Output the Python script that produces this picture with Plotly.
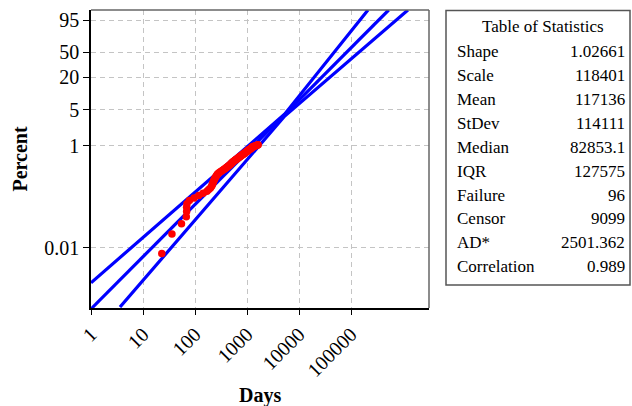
import numpy as np
import plotly.graph_objects as go

# ---- data ----
fail_days = [23, 36, 55, 68, 69, 69, 70, 78, 96, 118, 143, 170, 184, 198, 209, 214,
             219, 224, 229, 234, 239, 245, 252, 259, 266, 273, 282, 298, 314, 330,
             346, 362, 377, 392, 407, 423, 438, 453, 469, 481, 493, 504, 516, 527,
             539, 555, 571, 588, 604, 621, 638, 654, 671, 688, 704, 721, 739, 756,
             774, 791, 809, 826, 844, 861, 879, 896, 914, 931, 948, 966, 983, 1002,
             1021, 1039, 1058, 1077, 1095, 1114, 1133, 1152, 1170, 1189, 1208, 1226,
             1245, 1264, 1283, 1301, 1331, 1375, 1420, 1464, 1508, 1552, 1597, 1641]
fail_pct = [0.0076, 0.0185, 0.0294, 0.0402, 0.0511, 0.0620, 0.0729, 0.0837, 0.0946,
            0.1055, 0.1164, 0.1273, 0.1381, 0.1490, 0.1599, 0.1708, 0.1816, 0.1925,
            0.2034, 0.2143, 0.2251, 0.2360, 0.2469, 0.2578, 0.2686, 0.2795, 0.2904,
            0.3013, 0.3121, 0.3230, 0.3339, 0.3448, 0.3556, 0.3665, 0.3774, 0.3883,
            0.3991, 0.4100, 0.4209, 0.4318, 0.4426, 0.4535, 0.4644, 0.4753, 0.4861,
            0.4970, 0.5079, 0.5188, 0.5296, 0.5405, 0.5514, 0.5623, 0.5731, 0.5840,
            0.5949, 0.6058, 0.6166, 0.6275, 0.6384, 0.6493, 0.6601, 0.6710, 0.6819,
            0.6928, 0.7036, 0.7145, 0.7254, 0.7363, 0.7471, 0.7580, 0.7689, 0.7798,
            0.7906, 0.8015, 0.8124, 0.8233, 0.8341, 0.8450, 0.8559, 0.8668, 0.8776,
            0.8885, 0.8994, 0.9103, 0.9211, 0.9320, 0.9429, 0.9538, 0.9646, 0.9755,
            0.9864, 0.9973, 1.0081, 1.0190, 1.0299, 1.0408]

fit_days = [1, 530000]
fit_pct = [0.000619, 99.10]
upper_days = [1, 5327, 212200]
upper_pct = [0.002026, 4.146, 99.10]
lower_days = [3.61, 5327, 1244000]
lower_pct = [0.000674, 3.793, 99.10]

y_tick_pct = [0.01, 1, 5, 20, 50, 95]
y_tick_text = ["0.01", "1", "5", "20", "50", "95"]
x_tick_vals = [1, 10, 100, 1000, 10000, 100000]
x_tick_text = ["1", "10", "100", "1000", "10000", "100000"]

stat_title = "Table of Statistics"
stat_names = ["Shape", "Scale", "Mean", "StDev", "Median", "IQR", "Failure",
              "Censor", "AD*", "Correlation"]
stat_values = ["1.02661", "118401", "117136", "114111", "82853.1", "127575", "96",
               "9099", "2501.362", "0.989"]


def wb(pct):
    p = np.asarray(pct, dtype=float) / 100.0
    return np.log(-np.log1p(-p))


FONT = "Liberation Serif, Times New Roman, serif"
W, H = 632, 406
L, T = 91, 10
R = W - 429
B = H - 308
PW, PH = W - L - R, H - T - B


def px(x):  # page pixel -> paper
    return (x - L) / PW


def py(y):
    return (H - B - y) / PH


fig = go.Figure()
for d, p in [(upper_days, upper_pct), (fit_days, fit_pct), (lower_days, lower_pct)]:
    fig.add_trace(go.Scatter(x=d, y=wb(p), mode="lines",
                             line=dict(color="#0000FF", width=3.2),
                             showlegend=False, hoverinfo="skip"))
fig.add_trace(go.Scatter(x=fail_days, y=wb(fail_pct), mode="markers",
                         marker=dict(color="#FF0000", size=7.5, line=dict(width=0)),
                         showlegend=False))

fig.update_xaxes(type="log", range=[0, 6.5], tickvals=x_tick_vals, ticktext=x_tick_text,
                 tickangle=-45, ticks="outside", ticklen=5, tickcolor="black",
                 showline=True, linecolor="black", linewidth=1.5,
                 showgrid=True, gridcolor="#c4c4c4", griddash="5px,4px", gridwidth=1,
                 tickfont=dict(family=FONT, size=20, color="black"), zeroline=False)
fig.update_yaxes(range=[-11.95, 1.55], tickvals=list(wb(y_tick_pct)), ticktext=y_tick_text,
                 ticks="outside", ticklen=6, tickcolor="black",
                 showline=True, linecolor="black", linewidth=1.5,
                 showgrid=True, gridcolor="#c4c4c4", griddash="5px,4px", gridwidth=1,
                 tickfont=dict(family=FONT, size=20, color="black"), zeroline=False)

shapes = [
    dict(type="line", xref="paper", yref="paper", x0=0, x1=1, y0=1, y1=1,
         line=dict(color="#666666", width=1.5)),
    dict(type="line", xref="paper", yref="paper", x0=1, x1=1, y0=0, y1=1,
         line=dict(color="#666666", width=1.5)),
    dict(type="rect", xref="paper", yref="paper", x0=px(446), x1=px(630),
         y0=py(285), y1=py(10.5), line=dict(color="#555555", width=1.5)),
]

ann = [
    dict(text="<b>Days</b>", x=0.5, y=py(395), xref="paper", yref="paper",
         showarrow=False, xanchor="center", yanchor="middle",
         font=dict(family=FONT, size=20, color="black")),
    dict(text="<b>Percent</b>", x=px(19.5), y=0.5, xref="paper", yref="paper",
         showarrow=False, xanchor="center", yanchor="middle", textangle=-90,
         font=dict(family=FONT, size=20, color="black")),
    dict(text=stat_title, x=px(542.5), y=py(26), xref="paper", yref="paper",
         showarrow=False, xanchor="center", yanchor="middle",
         font=dict(family=FONT, size=17, color="black")),
]
for i, (n, v) in enumerate(zip(stat_names, stat_values)):
    yy = py(51.7 + i * 23.9)
    ann.append(dict(text=n, x=px(455), y=yy, xref="paper", yref="paper",
                    showarrow=False, xanchor="left", yanchor="middle",
                    font=dict(family=FONT, size=17, color="black")))
    ann.append(dict(text=v, x=px(627), y=yy, xref="paper", yref="paper",
                    showarrow=False, xanchor="right", yanchor="middle",
                    font=dict(family=FONT, size=17, color="black")))

fig.update_layout(width=W, height=H, autosize=False,
                  margin=dict(l=L, r=R, t=T, b=B),
                  paper_bgcolor="white", plot_bgcolor="white",
                  shapes=shapes, annotations=ann, showlegend=False)

fig.write_html("out.html", config={"displayModeBar": False},
               post_script="document.body.style.margin='0px';"
                           "document.body.style.overflow='hidden';")
